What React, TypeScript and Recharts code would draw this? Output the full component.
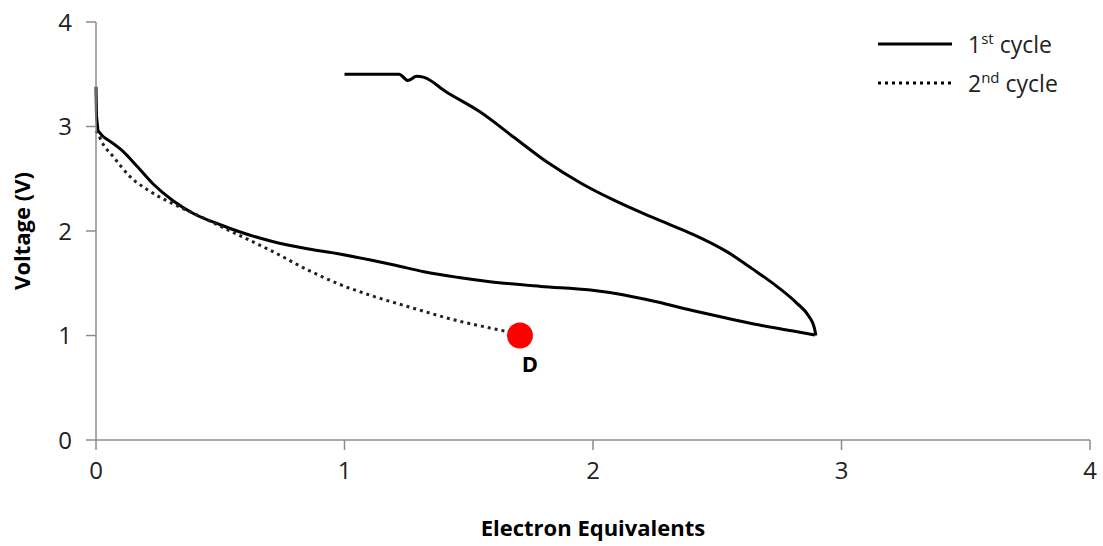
import { LineChart, Line, XAxis, YAxis, ReferenceDot } from "recharts";

// 1st cycle, discharge (voltage falls to 1 V)
const dischargeX = [0, 0.002, 0.008, 0.03, 0.1, 0.165, 0.23, 0.31, 0.39, 0.5, 0.58, 0.71, 0.85, 0.98, 1.11, 1.2, 1.32, 1.46, 1.585, 1.79, 1.99, 2.12, 2.26, 2.4, 2.54, 2.67, 2.8, 2.893];
const dischargeV = [3.38, 3.1, 2.96, 2.9, 2.78, 2.62, 2.45, 2.29, 2.17, 2.06, 1.99, 1.9, 1.83, 1.78, 1.72, 1.675, 1.61, 1.555, 1.515, 1.47, 1.435, 1.39, 1.32, 1.24, 1.165, 1.1, 1.045, 1.005];

// 1st cycle, charge (from 1 V back to 3.5 V), listed by increasing x
const chargeX = [1.0, 1.1, 1.22, 1.255, 1.29, 1.32, 1.41, 1.545, 1.68, 1.815, 1.95, 2.08, 2.22, 2.3, 2.4, 2.54, 2.64, 2.74, 2.82, 2.87, 2.89, 2.897];
const chargeV = [3.5, 3.5, 3.5, 3.44, 3.48, 3.47, 3.33, 3.14, 2.9, 2.66, 2.46, 2.3, 2.15, 2.07, 1.97, 1.8, 1.64, 1.47, 1.31, 1.18, 1.08, 1.0];

// 2nd cycle: discharge only, ends at point D
const cycle2X = [0, 0.01, 0.024, 0.07, 0.137, 0.217, 0.31, 0.41, 0.54, 0.65, 0.71, 0.85, 0.98, 1.11, 1.25, 1.3, 1.44, 1.57, 1.65, 1.706];
const cycle2V = [2.96, 2.92, 2.85, 2.71, 2.52, 2.38, 2.26, 2.15, 2.0, 1.875, 1.805, 1.63, 1.49, 1.38, 1.28, 1.245, 1.15, 1.08, 1.04, 1.015];

const pointD = { x: 1.706, v: 1.0, label: "D" };

const xTicks = [0, 1, 2, 3, 4];
const yTicks = [0, 1, 2, 3, 4];

const toRows = (xs: number[], vs: number[]) => xs.map((x, i) => ({ x, v: vs[i] }));
const discharge = toRows(dischargeX, dischargeV);
const startDrop = discharge.slice(0, 4);
const dischargeRest = discharge.slice(3);
const charge = toRows(chargeX, chargeV);
const cycle2 = toRows(cycle2X, cycle2V);

const FONT = "'Open Sans', sans-serif";
const AXIS = "#8c8c8c";
const TEXT = "#222";

function CycleLegend() {
  const rows = [
    { dash: undefined, main: "1", sup: "st" },
    { dash: "3 4", main: "2", sup: "nd" },
  ];
  return (
    <div style={{ position: "absolute", top: 24, left: 878, fontFamily: FONT, fontSize: 23, color: TEXT }}>
      {rows.map((r, i) => (
        <div key={i} style={{ display: "flex", alignItems: "center", height: 39 }}>
          <svg width={90} height={10}>
            <line x1={0} y1={5} x2={74} y2={5} stroke="#000" strokeWidth={3} strokeDasharray={r.dash} />
          </svg>
          <span>
            {r.main}
            <sup style={{ fontSize: 15 }}>{r.sup}</sup> cycle
          </span>
        </div>
      ))}
    </div>
  );
}

export default function App() {
  return (
    <div style={{ position: "absolute", top: 0, left: 0, width: 1103, height: 546, background: "#fff" }}>
      <LineChart width={1103} height={546} margin={{ top: 22, right: 13, bottom: 0, left: 0 }}>
        <XAxis
          dataKey="x"
          type="number"
          domain={[0, 4]}
          ticks={xTicks}
          tickSize={10}
          tickMargin={12}
          height={106}
          axisLine={{ stroke: AXIS, strokeWidth: 1.5 }}
          tickLine={{ stroke: AXIS, strokeWidth: 1.5 }}
          tick={{ fill: TEXT, fontSize: 24, fontFamily: FONT }}
          label={{ value: "Electron Equivalents", position: "insideBottom", offset: 10, fill: "#000", fontSize: 22, fontWeight: 700, fontFamily: FONT }}
        />
        <YAxis
          dataKey="v"
          type="number"
          domain={[0, 4]}
          ticks={yTicks}
          tickSize={10}
          tickMargin={14}
          width={96}
          axisLine={{ stroke: AXIS, strokeWidth: 1.5 }}
          tickLine={{ stroke: AXIS, strokeWidth: 1.5 }}
          tick={{ fill: TEXT, fontSize: 24, fontFamily: FONT }}
          label={{ value: "Voltage (V)", angle: -90, position: "insideLeft", offset: 22, fill: "#000", fontSize: 22, fontWeight: 700, fontFamily: FONT, style: { textAnchor: "middle" } }}
        />
        <Line data={startDrop} dataKey="v" type="linear" stroke="#000" strokeWidth={3} dot={false} isAnimationActive={false} />
        <Line data={dischargeRest} dataKey="v" type="monotone" stroke="#000" strokeWidth={3} dot={false} isAnimationActive={false} />
        <Line data={charge} dataKey="v" type="monotone" stroke="#000" strokeWidth={3} dot={false} isAnimationActive={false} />
        <Line data={cycle2} dataKey="v" type="monotone" stroke="#222" strokeWidth={3} strokeDasharray="3 4" dot={false} isAnimationActive={false} />
        <ReferenceDot
          x={pointD.x}
          y={pointD.v}
          r={13}
          fill="#ff0000"
          stroke="none"
          label={{ value: pointD.label, position: "bottom", offset: 8, dx: 10, fill: "#000", fontSize: 22, fontWeight: 700, fontFamily: FONT }}
        />
      </LineChart>
      <CycleLegend />
    </div>
  );
}
